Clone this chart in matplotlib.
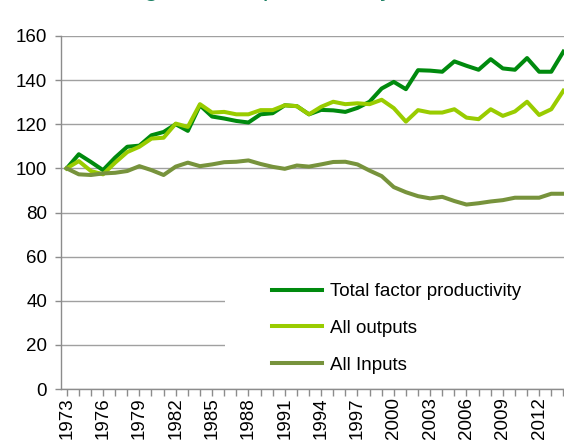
import numpy as np
import matplotlib
matplotlib.use('Agg')
from matplotlib import pyplot as plt
from matplotlib.patches import Rectangle
from matplotlib.ticker import MultipleLocator

plt.rcParams['font.family'] = ['Liberation Sans', 'DejaVu Sans']

years = list(range(1973, 2015))

tfp = [100, 106.4, 102.9, 99.2, 104.9, 109.8, 110.3, 115, 116.5, 120,
       117, 128.6, 123.5, 122.6, 121.5, 120.8, 124.5, 125, 128.6, 128.2,
       124.5, 126.5, 126.3, 125.6, 127.4, 130.2, 136.2, 139.2, 135.9, 144.5,
       144.3, 143.8, 148.5, 146.5, 144.7, 149.5, 145.3, 144.7, 150, 143.8,
       143.8, 152.9]

outputs = [100, 103.3, 98.8, 97.3, 102.6, 107.4, 109.8, 113.5, 113.9, 120.3,
           118.8, 129.1, 125.3, 125.6, 124.5, 124.5, 126.4, 126.4, 128.6, 128.2,
           124.5, 127.9, 130.2, 129.1, 129.5, 129.1, 131.1, 127.3, 121.2, 126.4,
           125.3, 125.3, 126.8, 123, 122.3, 126.8, 123.8, 125.8, 130.2, 124.2,
           126.8, 135.2]

inputs = [100, 97.3, 97, 97.7, 98, 98.8, 101, 99.2, 97, 100.8,
          102.6, 101, 101.8, 102.8, 103, 103.6, 102, 100.7, 99.8, 101.3,
          100.8, 101.8, 102.9, 103, 101.8, 99, 96.5, 91.5, 89.2, 87.4,
          86.4, 87.1, 85.2, 83.6, 84.2, 85, 85.6, 86.7, 86.7, 86.7,
          88.5, 88.5]

labels = ['Total factor productivity', 'All outputs', 'All Inputs']
colors = ['#008A0E', '#99CC00', '#77933C']

fig = plt.figure(figsize=(5.64, 4.41), dpi=100)
ax = fig.add_axes([61/564, 1 - 389/441, 1 - 61/564, (389 - 36)/441])

# title, mostly cut off at the top like the source image
fig.text(30/564, 1 + 4/441, 'Chart 6: Agricultural productivity', color='#1A7F62',
         fontsize=18.5, va='baseline', ha='left')

for vals, lab, col in zip([tfp, outputs, inputs], labels, colors):
    ax.plot(years, vals, color=col, lw=2.9, label=lab, zorder=3, solid_joinstyle='round')

ax.set_ylim(0, 160)
ax.set_xlim(1972.53, 2014.05)
ax.yaxis.set_major_locator(MultipleLocator(20))
ax.set_xticks(range(1973, 2013, 3))
ax.xaxis.set_minor_locator(MultipleLocator(1))
ax.tick_params(axis='x', which='both', length=5, color='#8C8C8C', width=1,
               labelrotation=90, labelsize=13.5, pad=1)
ax.tick_params(axis='y', length=4, color='#8C8C8C', width=1, labelsize=13.5, pad=6)
for t in ax.get_xticklabels():
    t.set_va('top')

ax.grid(axis='y', color='#A0A0A0', lw=1.0, zorder=0)
ax.set_axisbelow(True)
for s in ['top', 'right']:
    ax.spines[s].set_visible(False)
for s in ['left', 'bottom']:
    ax.spines[s].set_color('#8C8C8C')
    ax.spines[s].set_linewidth(1)

# white legend area hiding the gridlines
ax.add_patch(Rectangle((0.326, 0.03), 0.68, 0.31, transform=ax.transAxes,
                       facecolor='white', edgecolor='none', zorder=2))

leg = ax.legend(loc='upper left', bbox_to_anchor=(0.4195, 0.30), frameon=False,
                fontsize=13.5, handlelength=2.67, handletextpad=0.43,
                labelspacing=1.05, borderpad=0, borderaxespad=0)
for h in leg.get_lines():
    h.set_linewidth(2.9)

fig.savefig('out.png', dpi=100)
